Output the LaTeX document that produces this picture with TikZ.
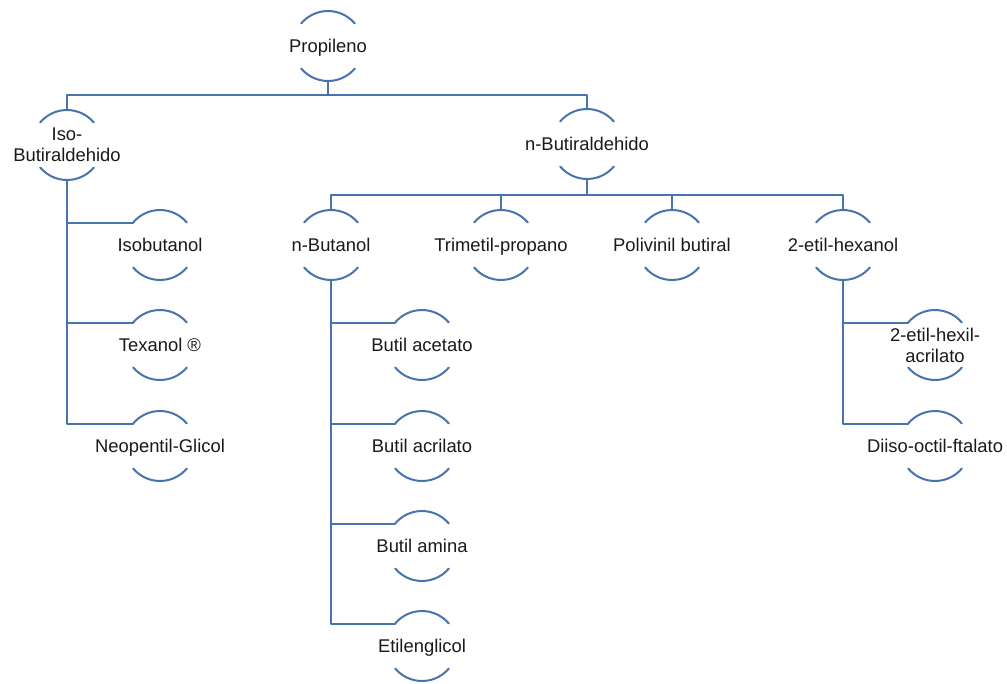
\documentclass[tikz,border=0pt]{standalone}
\usepackage{fontspec}
\setmainfont{Liberation Sans}
\definecolor{arcblue}{RGB}{72,116,174}
\begin{document}
\begin{tikzpicture}[x=1pt, y=1pt, line join=round, line cap=round,
		font=\fontsize{18.4}{21}\selectfont,
		ring/.style={circle, minimum size=70pt, inner sep=0pt, outer sep=0pt},
		hub/.style={ring, label={[text=black!90, text height=14pt, text depth=2pt]center:#1}},
		hubtwo/.style={ring, label={[align=center, text=black!90]center:#1}},
		link/.style={draw=arcblue, line width=2pt}]
	\useasboundingbox (0,0) rectangle (1007,-683);
	% nivel 1 y 2
	\node[hub=Propileno] (prop) at (328,-46) {};
	\node[hubtwo={Iso-\\Butiraldehido}] (iso) at (67,-145) {};
	\node[hub=n-Butiraldehido] (nbut) at (587,-144) {};
	% nivel 3
	\node[hub=n-Butanol] (nbuol) at (331,-245) {};
	\node[hub=Trimetil-propano] (trim) at (501,-245) {};
	\node[hub=Polivinil butiral] (poli) at (672,-245) {};
	\node[hub=2-etil-hexanol] (ehex) at (843,-245) {};
	% hijos en columna
	\node[hub=Isobutanol] (isob) at (160,-245) {};
	\node[hub=Texanol ®] (texa) at (160,-345) {};
	\node[hub=Neopentil-Glicol] (neop) at (160,-446) {};
	\node[hub=Butil acetato] (bace) at (422,-345) {};
	\node[hub=Butil acrilato] (bacr) at (422,-446) {};
	\node[hub=Butil amina] (bami) at (422,-546) {};
	\node[hub=Etilenglicol] (etil) at (422,-646) {};
	\node[hubtwo={2-etil-hexil-\\acrilato}] (ehac) at (935,-345) {};
	\node[hub=Diiso-octil-ftalato] (diis) at (935,-446) {};
	% arcos
	\foreach \n in {prop,iso,nbut,nbuol,trim,poli,ehex,isob,texa,neop,bace,bacr,bami,etil,ehac,diis}{
		\draw[link] (\n.40) arc (40:140:35pt);
		\draw[link] (\n.220) arc (220:320:35pt);
	}
	% conectores
	\coordinate (bus1) at (328,-95);
	\coordinate (bus2) at (587,-195);
	\draw[link] (prop.south) -- (bus1);
	\draw[link] (iso.north) |- (bus1) -| (nbut.north);
	\draw[link] (nbut.south) -- (bus2);
	\draw[link] (nbuol.north) |- (bus2) -| (ehex.north);
	\draw[link] (trim.north) -- (trim.north |- bus2);
	\draw[link] (poli.north) -- (poli.north |- bus2);
	\foreach \c in {isob,texa,neop} \draw[link] (iso.south) |- (\c.140);
	\foreach \c in {bace,bacr,bami,etil} \draw[link] (nbuol.south) |- (\c.140);
	\foreach \c in {ehac,diis} \draw[link] (ehex.south) |- (\c.140);
\end{tikzpicture}
\end{document}
